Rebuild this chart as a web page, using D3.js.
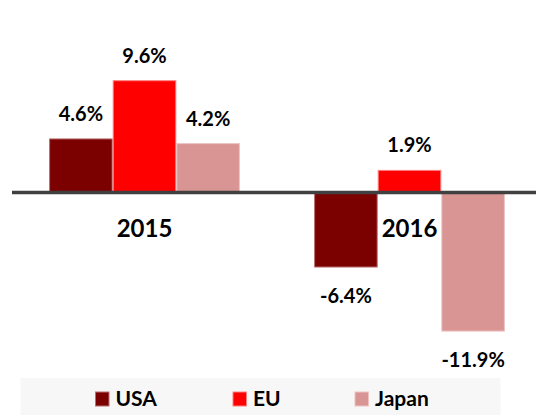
<!DOCTYPE html>
<html>
<head>
<meta charset="utf-8">
<script src="https://cdn.jsdelivr.net/npm/d3@7"></script>
<style>
  html, body { margin: 0; padding: 0; background: #fff; }
  svg { display: block; }
  text { font-family: Lato, "Open Sans", sans-serif; font-weight: 700; fill: #000; }
</style>
</head>
<body>
<script>
const years = ["2015", "2016"];
const series = ["USA", "EU", "Japan"];
const usa = [4.6, -6.4];
const eu = [9.6, 1.9];
const japan = [4.2, -11.9];
const colors = ["#7b0000", "#ff0000", "#d99594"];
const strokes = ["#b96f6f", "#ff8080", "#eec4c3"];

const W = 536, H = 415;
const svg = d3.select("body").append("svg").attr("width", W).attr("height", H);

const values = [usa, eu, japan];
const data = years.map((y, i) => ({ year: y, vals: series.map((s, j) => ({ s, j, v: values[j][i] })) }));

const x0 = d3.scaleBand().domain(years).range([12, 542]).paddingInner(0.28).paddingOuter(0.14);
const x1 = d3.scaleBand().domain(series).range([0, x0.bandwidth()]).padding(0);
const y = d3.scaleLinear().domain([0, 9.6]).range([192.5, 80.7]);

const g = svg.selectAll("g.grp").data(data).join("g")
  .attr("class", "grp")
  .attr("transform", d => `translate(${x0(d.year)},0)`);

g.selectAll("rect").data(d => d.vals).join("rect")
  .attr("x", d => x1(d.s) + 0.5)
  .attr("width", x1.bandwidth() - 1)
  .attr("y", d => Math.min(y(d.v), y(0)))
  .attr("height", d => Math.abs(y(d.v) - y(0)))
  .attr("fill", d => colors[d.j])
  .attr("stroke", d => strokes[d.j])
  .attr("stroke-width", 1);

g.selectAll("text.val").data(d => d.vals).join("text")
  .attr("class", "val")
  .attr("x", d => x1(d.s) + x1.bandwidth() / 2)
  .attr("y", d => d.v >= 0 ? y(d.v) - 18 : y(d.v) + 36)
  .attr("text-anchor", "middle")
  .attr("font-size", 20)
  .text(d => d.v.toFixed(1) + "%");

// baseline
svg.append("line")
  .attr("x1", 12).attr("x2", W)
  .attr("y1", y(0)).attr("y2", y(0))
  .attr("stroke", "#404040").attr("stroke-width", 3.5);

// category labels
svg.selectAll("text.cat").data(years).join("text")
  .attr("class", "cat")
  .attr("x", d => x0(d) + x0.bandwidth() / 2)
  .attr("y", 237)
  .attr("text-anchor", "middle")
  .attr("font-size", 24)
  .text(d => d);

// legend
svg.append("rect").attr("x", 20.5).attr("y", 378).attr("width", 480).attr("height", 37).attr("fill", "#f7f7f7");
const legX = [95, 232.5, 354.5];
const leg = svg.selectAll("g.leg").data(series).join("g")
  .attr("class", "leg")
  .attr("transform", (d, i) => `translate(${legX[i]},0)`);
leg.append("rect")
  .attr("x", 0.5).attr("y", 392).attr("width", 13.5).attr("height", 14)
  .attr("fill", (d, i) => colors[i])
  .attr("stroke", (d, i) => strokes[i]).attr("stroke-width", 1);
leg.append("text")
  .attr("x", 20.5).attr("y", 406)
  .attr("font-size", 21)
  .text(d => d);
</script>
</body>
</html>
